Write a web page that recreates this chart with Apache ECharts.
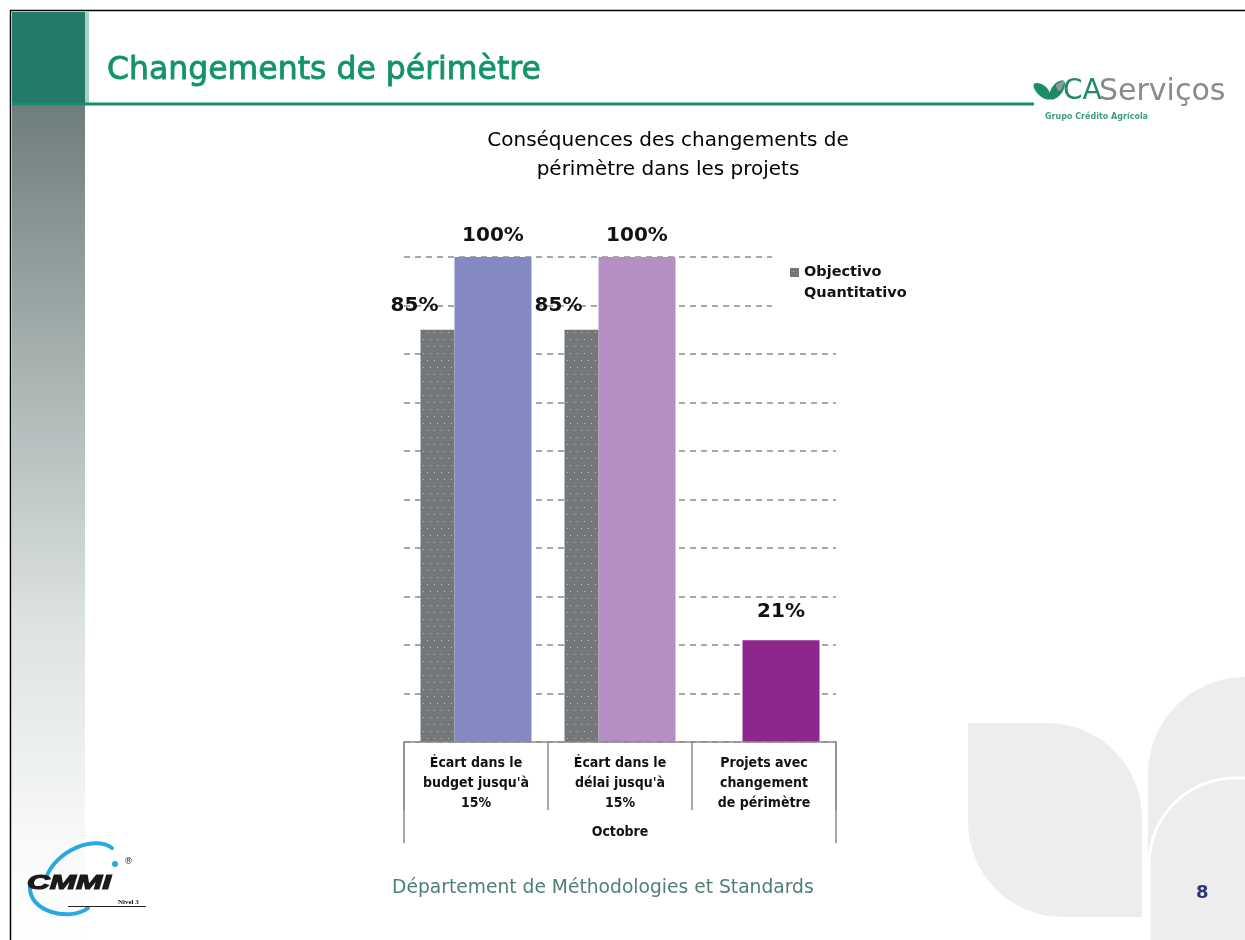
<!DOCTYPE html>
<html>
<head>
<meta charset="utf-8">
<script src="https://cdn.jsdelivr.net/npm/echarts@6/dist/echarts.min.js"></script>
<style>
  html, body { margin: 0; padding: 0; background: #ffffff; }
  #chart { width: 1245px; height: 940px; }
</style>
</head>
<body>
<div id="chart"></div>
<script>
// Chart data
const categories = [
  "Écart dans le\nbudget jusqu'à\n15%",
  "Écart dans le\ndélai jusqu'à\n15%",
  "Projets avec\nchangement\nde périmètre"
];
const groupLabels = ['Octobre'];
const objectiveName = 'Objectivo Quantitativo';
const objectiveValues = [85, 85, null];
const actualName = 'Octobre';
const actualValues = [100, 100, 21];
const actualColors = ['#8589C3', '#B58FC3', '#8D278D'];

const LABEL_FONT = "'DejaVu Sans Condensed', 'DejaVu Sans', sans-serif";
const BASE_FONT = "'DejaVu Sans', Verdana, sans-serif";
const GRID_GREY = '#8C8C8C';

// Dotted grey fill for the objective bars
function dotPattern() {
  const c = document.createElement('canvas');
  c.width = 7; c.height = 14;
  const g = c.getContext('2d');
  g.fillStyle = '#74777A';
  g.fillRect(0, 0, 7, 14);
  g.fillStyle = '#BDC0C2';
  g.fillRect(3, 3, 1, 1);
  g.fillRect(0, 10, 1, 1);
  return { image: c, repeat: 'repeat' };
}
const objectiveFill = dotPattern();

const pct = p => p.value + '%';

const chart = echarts.init(document.getElementById('chart'), null, { renderer: 'canvas' });

const option = {
  backgroundColor: '#ffffff',
  animation: false,
  title: [
    {
      text: 'Changements de périmètre',
      left: 107, top: 55, padding: 0,
      textStyle: { color: '#12936B', fontSize: 31.5, fontWeight: 'normal', fontFamily: BASE_FONT,
                   textBorderColor: '#12936B', textBorderWidth: 0.8 }
    },
    {
      text: 'Conséquences des changements de\npérimètre dans les projets',
      left: 668, top: 126, padding: 0, textAlign: 'center',
      textStyle: { color: '#000000', fontSize: 20, lineHeight: 29, fontWeight: 'normal', fontFamily: BASE_FONT }
    },
    {
      text: 'Département de Méthodologies et Standards',
      left: 392, top: 879, padding: 0,
      textStyle: { color: '#4E7F78', fontSize: 18.7, fontWeight: 'normal', fontFamily: BASE_FONT }
    },
    {
      text: '8',
      left: 1196, top: 884, padding: 0,
      textStyle: { color: '#2B3578', fontSize: 18, fontWeight: 'bold', fontFamily: BASE_FONT }
    }
  ],
  legend: {
    data: [objectiveName],
    left: 772, top: 239,
    orient: 'vertical',
    padding: [2, 8, 12, 18],
    backgroundColor: '#ffffff',
    icon: 'rect',
    itemWidth: 9, itemHeight: 9, itemGap: 5,
    // empty first line keeps the swatch level with "Objectivo"
    formatter: () => '\nObjectivo\nQuantitativo',
    textStyle: { fontFamily: BASE_FONT, fontWeight: 'bold', fontSize: 14.5, lineHeight: 21, color: '#111111' }
  },
  grid: { left: 404, right: 409, top: 257, bottom: 198, containLabel: false },
  xAxis: [
    {
      type: 'category', data: categories, position: 'bottom', boundaryGap: true,
      axisLine: { show: true, lineStyle: { color: GRID_GREY, width: 1.5 } },
      axisTick: { show: true, interval: 0, length: 68, lineStyle: { color: GRID_GREY, width: 1.5 } },
      axisLabel: { interval: 0, margin: 11, fontFamily: LABEL_FONT, fontWeight: 'bold', fontSize: 14,
                   lineHeight: 20, color: '#111111', align: 'center' },
      z: 5
    },
    {
      type: 'category', data: groupLabels, position: 'bottom', boundaryGap: true,
      axisLine: { show: false },
      axisTick: { show: true, interval: 0, length: 101, lineStyle: { color: GRID_GREY, width: 1.5 } },
      axisLabel: { interval: 0, margin: 80, fontFamily: LABEL_FONT, fontWeight: 'bold', fontSize: 14,
                   lineHeight: 20, color: '#111111' }
    }
  ],
  yAxis: {
    type: 'value', min: 0, max: 100, interval: 10,
    axisLine: { show: false }, axisTick: { show: false }, axisLabel: { show: false },
    splitLine: { show: true, lineStyle: { color: GRID_GREY, width: 1.5, type: [6, 5] } }
  },
  series: [
    {
      name: objectiveName, type: 'bar', xAxisIndex: 0,
      barWidth: 34, barGap: '0%',
      data: objectiveValues,
      itemStyle: { color: objectiveFill },
      label: { show: true, position: 'top', distance: 14, offset: [-23, 0], formatter: pct,
               fontFamily: BASE_FONT, fontWeight: 'bold', fontSize: 20, color: '#111111' }
    },
    {
      name: actualName, type: 'bar', xAxisIndex: 0,
      barWidth: 77, barGap: '0%',
      data: actualValues.map((v, i) => ({
        value: v,
        itemStyle: { color: actualColors[i] },
        label: i === 2 ? { distance: 18 } : {}
      })),
      label: { show: true, position: 'top', distance: 11, formatter: pct,
               fontFamily: BASE_FONT, fontWeight: 'bold', fontSize: 20, color: '#111111' }
    }
  ],
  graphic: [
    // slide frame
    { type: 'line', z: -20, shape: { x1: 10, y1: 10.5, x2: 1245, y2: 10.5 }, style: { stroke: '#000', lineWidth: 1.5 } },
    { type: 'line', z: -20, shape: { x1: 10.5, y1: 10, x2: 10.5, y2: 940 }, style: { stroke: '#000', lineWidth: 1.5 } },
    // left side band
    { type: 'rect', z: -30, shape: { x: 12, y: 12, width: 73, height: 91 }, style: { fill: '#237A6B' } },
    { type: 'rect', z: -30, shape: { x: 85, y: 12, width: 4, height: 91 }, style: { fill: '#A2D5C7' } },
    { type: 'rect', z: -30, shape: { x: 12, y: 105, width: 73, height: 835 },
      style: { fill: new echarts.graphic.LinearGradient(0, 0, 0, 1, [
        { offset: 0, color: '#6E7E7C' },
        { offset: 0.35, color: '#AEB8B7' },
        { offset: 0.62, color: '#DDE2E2' },
        { offset: 0.88, color: '#F8F9F9' },
        { offset: 1, color: '#FFFFFF' }
      ]) } },
    // rule under the heading
    { type: 'line', z: -20, shape: { x1: 12, y1: 104, x2: 1034, y2: 104 }, style: { stroke: '#1D8C6C', lineWidth: 3 } },
    // decorative leaves, bottom right
    { type: 'rect', z: -30, shape: { x: 968, y: 723, width: 174, height: 194, r: [0, 95, 0, 95] }, style: { fill: '#EDEDED' } },
    { type: 'rect', z: -30, shape: { x: 1148, y: 677, width: 130, height: 280, r: [97, 0, 0, 0] }, style: { fill: '#EDEDED' } },
    { type: 'rect', z: -29, shape: { x: 1149, y: 778, width: 130, height: 200, r: [86, 0, 0, 0] },
      style: { fill: '#EDEDED', stroke: '#FFFFFF', lineWidth: 3 } },
    // company logo
    { type: 'polygon', z: 10, shape: { points: [[1034, 84], [1046, 87], [1050, 99], [1039, 95]], smooth: 0.5 }, style: { fill: '#1C8D6B' } },
    { type: 'polygon', z: 10, shape: { points: [[1050, 99], [1053, 86], [1064, 81], [1061, 94]], smooth: 0.5 }, style: { fill: '#1E8A68' } },
    { type: 'polygon', z: 11, shape: { points: [[1056, 85], [1064, 81], [1062, 88], [1059, 91]], smooth: 0.3 }, style: { fill: '#8E9A96' } },
    { type: 'text', z: 10, x: 1063, y: 92, style: { text: 'CA', fill: '#1E8A6A', font: "28px 'DejaVu Sans', sans-serif", verticalAlign: 'middle' } },
    { type: 'text', z: 10, x: 1099, y: 92, style: { text: 'Serviços', fill: '#8A8A8A', font: "30px 'DejaVu Sans', sans-serif", verticalAlign: 'middle' } },
    { type: 'text', z: 10, x: 1045, y: 117, style: { text: 'Grupo Crédito Agrícola', fill: '#3E9E7E', font: "bold 8px 'DejaVu Sans', sans-serif", verticalAlign: 'middle' } },
    // CMMI badge
    { type: 'bezierCurve', z: 10, shape: { x1: 46, y1: 878, cpx1: 56, cpy1: 850, cpx2: 95, cpy2: 835, x2: 112, y2: 848 },
      style: { fill: null, stroke: '#2AA8DF', lineWidth: 4, lineCap: 'round' } },
    { type: 'bezierCurve', z: 10, shape: { x1: 30, y1: 886, cpx1: 28, cpy1: 912, cpx2: 70, cpy2: 922, x2: 88, y2: 908 },
      style: { fill: null, stroke: '#2AA8DF', lineWidth: 4, lineCap: 'round' } },
    { type: 'circle', z: 10, shape: { cx: 115, cy: 864, r: 3 }, style: { fill: '#2AA8DF' } },
    { type: 'text', z: 11, x: 27, y: 883, scaleX: 1.5,
      style: { text: 'CMMI', fill: '#1A1A1A', font: "italic bold 21px 'Liberation Sans', Arial, sans-serif", verticalAlign: 'middle',
               stroke: '#1A1A1A', lineWidth: 1.2 } },
    { type: 'text', z: 11, x: 124, y: 862, style: { text: '®', fill: '#333', font: "9px 'DejaVu Sans', sans-serif", verticalAlign: 'middle' } },
    { type: 'line', z: 11, shape: { x1: 68, y1: 906.5, x2: 146, y2: 906.5 }, style: { stroke: '#222', lineWidth: 1 } },
    { type: 'text', z: 11, x: 118, y: 902, style: { text: 'Nivel 3', fill: '#111', font: "bold 7px 'Liberation Serif', serif", verticalAlign: 'middle' } }
  ]
};

chart.setOption(option);
</script>
</body>
</html>
